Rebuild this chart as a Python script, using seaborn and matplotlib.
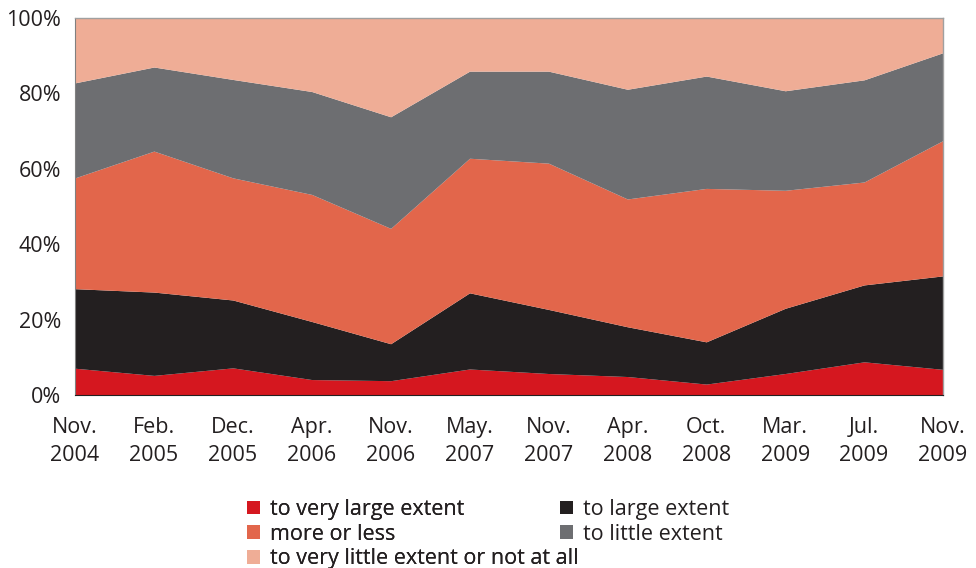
import matplotlib
matplotlib.use("Agg")
import matplotlib.pyplot as plt
from matplotlib.patches import Patch
import seaborn as sns
import numpy as np

# survey waves
waves = ["Nov.\n2004", "Feb.\n2005", "Dec.\n2005", "Apr.\n2006", "Nov.\n2006", "May.\n2007",
         "Nov.\n2007", "Apr.\n2008", "Oct.\n2008", "Mar.\n2009", "Jul.\n2009", "Nov.\n2009"]

# shares in percent
very_large = [7.1, 5.2, 7.2, 4.1, 3.8, 6.9, 5.7, 4.9, 2.9, 5.7, 8.8, 6.8]
large = [21.1, 22.1, 18.0, 15.4, 9.8, 20.2, 17.0, 13.2, 11.2, 17.3, 20.4, 24.8]
more_or_less = [29.4, 37.4, 32.4, 33.7, 30.6, 35.7, 38.8, 33.9, 40.7, 31.3, 27.3, 35.9]
little = [25.2, 22.3, 26.1, 27.3, 29.6, 23.1, 24.4, 29.1, 29.8, 26.4, 27.1, 23.3]
very_little = [17.2, 13.0, 16.3, 19.5, 26.2, 14.1, 14.1, 18.9, 15.4, 19.3, 16.4, 9.2]

labels = ["to very large extent", "to large extent", "more or less",
          "to little extent", "to very little extent or not at all"]
colors = ["#d5171f", "#231f20", "#e2664b", "#6d6e71", "#efad96"]

sns.set_style("white")
plt.rcParams["font.family"] = ["Open Sans", "DejaVu Sans"]

fig = plt.figure(figsize=(9.76, 5.68), dpi=100)
ax = fig.add_axes([75 / 976, 1 - 395 / 568, (943 - 75) / 976, (395 - 18) / 568])

x = np.arange(len(waves))
series = [very_large, large, more_or_less, little, very_little]
ax.stackplot(x, *series, colors=colors, linewidth=0)

ax.set_xlim(0, len(waves) - 1)
ax.set_ylim(0, 100)
ax.set_xticks(x)
ax.set_xticklabels(waves, fontsize=15.5, color="#231f20", linespacing=1.45)
ax.set_yticks(range(0, 101, 20))
ax.set_yticklabels([f"{v}%" for v in range(0, 101, 20)], fontsize=15.5, color="#231f20")
ax.tick_params(axis="both", direction="out", length=7, width=1, colors="#231f20",
               labelcolor="#231f20", pad=3)
ax.tick_params(axis="x", pad=9)
ax.tick_params(axis="y", colors="#808080", labelcolor="#231f20")

for side in ["top", "right"]:
    ax.spines[side].set_color("#a0a0a0")
    ax.spines[side].set_linewidth(1)
ax.spines["left"].set_color("#808080")
ax.spines["bottom"].set_color("#231f20")

handles = [Patch(facecolor=c, edgecolor="none") for c in colors]
leg_kw = dict(loc="upper left", frameon=False, fontsize=15.5, handlelength=0.6,
              handleheight=0.6, handletextpad=0.45, labelspacing=0.17,
              labelcolor="#231f20", borderaxespad=0, borderpad=0)
left_items = [0, 2, 4]
right_items = [1, 3]
leg1 = fig.legend([handles[i] for i in left_items], [labels[i] for i in left_items],
                  bbox_to_anchor=(247 / 976, 1 - 499 / 568), **leg_kw)
fig.legend([handles[i] for i in right_items], [labels[i] for i in right_items],
           bbox_to_anchor=(560 / 976, 1 - 499 / 568), **leg_kw)
fig.add_artist(leg1)

fig.savefig("out.png", dpi=100)
